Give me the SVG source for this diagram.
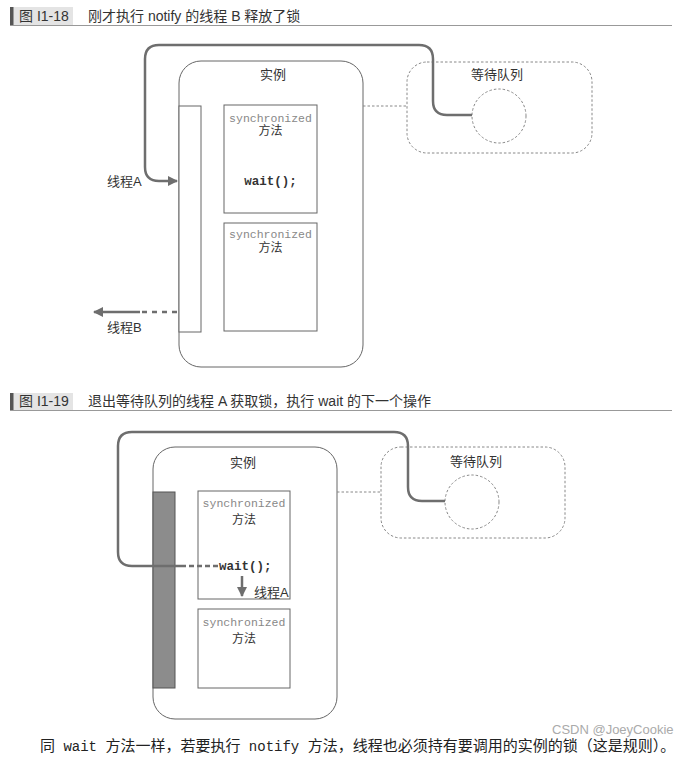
<svg xmlns="http://www.w3.org/2000/svg" width="692" height="762" viewBox="0 0 692 762">
<style>
.cjk{font-family:"Liberation Sans","Noto Sans CJK SC",sans-serif;fill:#333}
.mono{font-family:"Liberation Mono","DejaVu Sans Mono",monospace}
.syn{font-size:11.5px;fill:#888}
.box{fill:#fff;stroke:#666;stroke-width:1}
.dash{fill:none;stroke:#888;stroke-width:1;stroke-dasharray:2.5,2}
.thread{fill:none;stroke:#6e6e6e;stroke-width:2.5}
</style>
<defs>
<marker id="ah" viewBox="0 0 10 10" refX="9" refY="5" markerWidth="4" markerHeight="4" orient="auto" markerUnits="strokeWidth">
<path d="M0 0 L10 5 L0 10 z" fill="#6e6e6e"/>
</marker>
</defs>
<rect width="692" height="762" fill="#fff"/>

<g id="header1">
<rect x="10" y="7" width="63" height="18" fill="#e4e4e4"/>
<rect x="10" y="7" width="3.5" height="18" fill="#555"/>
<line x1="10" y1="25.5" x2="672" y2="25.5" stroke="#999" stroke-width="1"/>
<text x="19" y="21" class="cjk" font-size="14">图 I1-18</text>
<text x="88" y="21" class="cjk" font-size="14">刚才执行 notify 的线程 B 释放了锁</text>
</g>

<g id="instance1">
<rect x="179" y="61" width="184" height="306" rx="22" class="box"/>
<text x="273" y="79" text-anchor="middle" class="cjk" font-size="13">实例</text>
</g>
<g id="lock1"><rect x="179" y="106" width="22" height="226" class="box"/></g>
<g id="sync1a">
<rect x="224" y="105" width="93" height="108" class="box"/>
<text x="270.5" y="122" text-anchor="middle" class="mono syn">synchronized</text>
<text x="270.5" y="135" text-anchor="middle" class="cjk" font-size="12">方法</text>
<text x="270.5" y="185" text-anchor="middle" class="mono" font-size="12.5" font-weight="bold" fill="#333">wait();</text>
</g>
<g id="sync1b">
<rect x="224" y="223" width="93" height="108" class="box"/>
<text x="270.5" y="238" text-anchor="middle" class="mono syn">synchronized</text>
<text x="270.5" y="252" text-anchor="middle" class="cjk" font-size="12">方法</text>
</g>
<g id="queue1">
<rect x="407" y="62" width="185" height="91" rx="20" class="dash"/>
<text x="497" y="79" text-anchor="middle" class="cjk" font-size="13">等待队列</text>
<circle cx="499" cy="116" r="27" class="dash"/>
</g>
<g id="labels1">
<text x="107" y="186" class="cjk" font-size="13">线程A</text>
<text x="107" y="332" class="cjk" font-size="13">线程B</text>
</g>
<g id="connectors1">
<line x1="363" y1="106" x2="407" y2="106" class="dash"/>
<path d="M472 115 H447 Q433 115 433 101 V59 Q433 45 419 45 H159 Q145 45 145 59 V167 Q145 181 159 181 H177" class="thread" marker-end="url(#ah)"/>
<line x1="140" y1="312" x2="94" y2="312" class="thread" marker-end="url(#ah)"/>
<line x1="142" y1="312" x2="177" y2="312" class="thread" stroke-dasharray="5,5"/>
</g>

<g id="header2">
<rect x="10" y="393" width="63" height="17" fill="#e4e4e4"/>
<rect x="10" y="393" width="3.5" height="17" fill="#555"/>
<line x1="10" y1="410.5" x2="672" y2="410.5" stroke="#999" stroke-width="1"/>
<text x="19" y="406" class="cjk" font-size="14">图 I1-19</text>
<text x="88" y="406" class="cjk" font-size="14">退出等待队列的线程 A 获取锁，执行 wait 的下一个操作</text>
</g>

<g id="instance2">
<rect x="153" y="447" width="184" height="272" rx="22" class="box"/>
<text x="243" y="467" text-anchor="middle" class="cjk" font-size="13">实例</text>
</g>
<g id="lock2"><rect x="153" y="492" width="22" height="196" fill="#8c8c8c" stroke="#555" stroke-width="1"/></g>
<g id="sync2a">
<rect x="198" y="491" width="92" height="108" class="box"/>
<text x="244" y="507" text-anchor="middle" class="mono syn">synchronized</text>
<text x="244" y="524" text-anchor="middle" class="cjk" font-size="12">方法</text>
<text x="219" y="570" class="mono" font-size="12.5" font-weight="bold" fill="#333">wait();</text>
<text x="254" y="597" class="cjk" font-size="13">线程A</text>
</g>
<g id="sync2b">
<rect x="198" y="609" width="92" height="79" class="box"/>
<text x="244" y="626" text-anchor="middle" class="mono syn">synchronized</text>
<text x="244" y="643" text-anchor="middle" class="cjk" font-size="12">方法</text>
</g>
<g id="queue2">
<rect x="381" y="447" width="184" height="91" rx="20" class="dash"/>
<text x="476" y="466" text-anchor="middle" class="cjk" font-size="13">等待队列</text>
<circle cx="472" cy="502" r="27" class="dash"/>
</g>
<g id="connectors2">
<line x1="337" y1="492" x2="381" y2="492" class="dash"/>
<path d="M445 501 H422 Q408 501 408 487 V446 Q408 432 394 432 H132 Q118 432 118 446 V552 Q118 566 132 566 H186" class="thread"/>
<line x1="189" y1="566" x2="218" y2="566" class="thread" stroke-dasharray="5,3"/>
<line x1="242" y1="576" x2="242" y2="596" class="thread" marker-end="url(#ah)"/>
</g>

<g id="caption">
<text x="40" y="751" font-size="15" fill="#222" font-family="'Liberation Serif','Noto Sans CJK SC',serif">同<tspan class="mono" font-size="14"> wait </tspan>方法一样，若要执行<tspan class="mono" font-size="14"> notify </tspan>方法，线程也必须持有要调用的实例的锁（这是规则）。</text>
<text x="552" y="734" font-size="13" fill="#aaa" font-family="'Liberation Sans',sans-serif">CSDN @JoeyCookie</text>
</g>
</svg>
